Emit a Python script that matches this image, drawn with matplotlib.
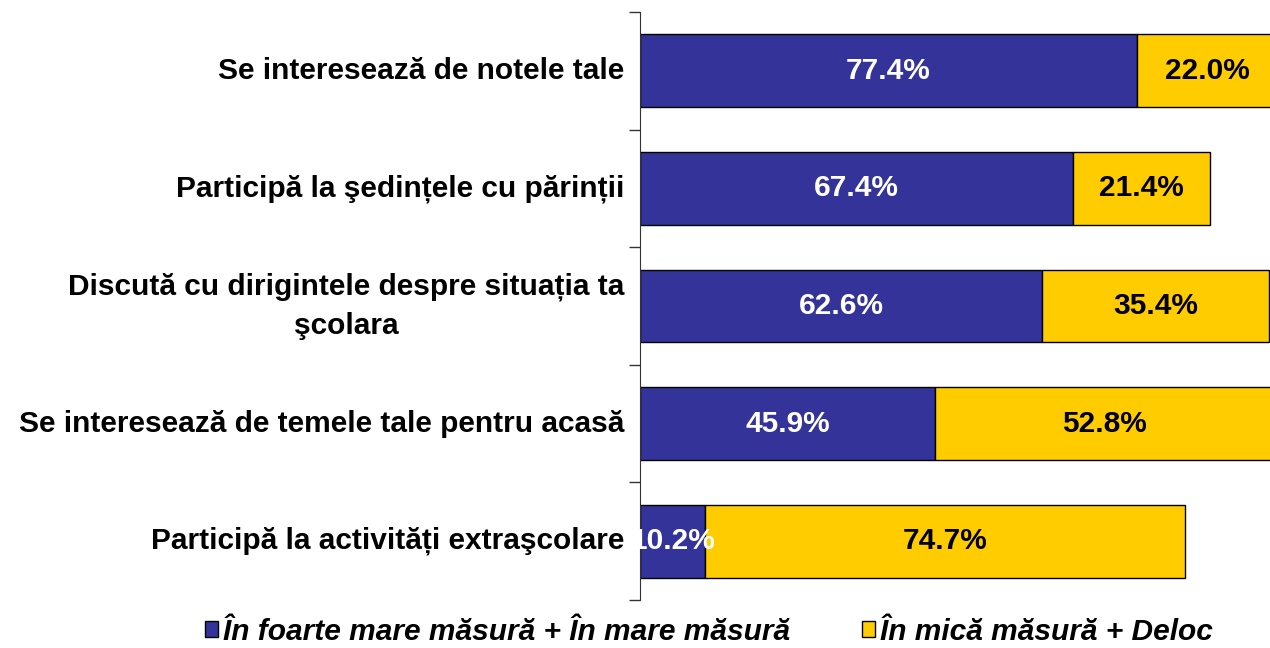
import matplotlib.pyplot as plt
import numpy as np

plt.rcParams['font.family'] = ['Liberation Sans', 'DejaVu Sans']

categories = ["Se interesează de notele tale",
              "Participă la şedințele cu părinții",
              "Discută cu dirigintele despre situația ta\nşcolara",
              "Se interesează de temele tale pentru acasă",
              "Participă la activități extraşcolare"]
mare = [77.4, 67.4, 62.6, 45.9, 10.2]
mica = [22.0, 21.4, 35.4, 52.8, 74.7]
series_names = ["În foarte mare măsură + În mare măsură",
                "În mică măsură + Deloc"]

blue = "#333399"
yellow = "#FFCC00"
fs = 21.5

fig = plt.figure(figsize=(12.7, 6.48), dpi=100)
ax = fig.add_axes([640 / 1270, 1 - 600 / 648, 642 / 1270, 588 / 648])

y = np.arange(len(categories))
h = 0.62
b1 = ax.barh(y, mare, height=h, color=blue, edgecolor="black", linewidth=1, label=series_names[0])
b2 = ax.barh(y, mica, left=mare, height=h, color=yellow, edgecolor="black", linewidth=1, label=series_names[1])

for i in range(len(categories)):
    ax.text(mare[i] / 2, y[i], f"{mare[i]:.1f}%", ha="center", va="center",
            color="white", fontsize=fs, fontweight="bold")
    ax.text(mare[i] + mica[i] / 2, y[i], f"{mica[i]:.1f}%", ha="center", va="center",
            color="black", fontsize=fs, fontweight="bold")

ax.set_xlim(0, 100)
ax.set_ylim(len(categories) - 0.5, -0.5)
ax.set_xticks([])

# ticks at category boundaries, labels at centres
ax.set_yticks(np.arange(len(categories) + 1) - 0.5)
ax.set_yticklabels([])
ax.tick_params(axis="y", length=8, width=1, color="#333333", direction="out")
for i, c in enumerate(categories):
    ax.text(-2.4, y[i], c, ha="right", va="center", multialignment="center",
            linespacing=1.5, fontsize=fs, fontweight="bold")

for s in ["top", "right", "bottom"]:
    ax.spines[s].set_visible(False)
ax.spines["left"].set_color("#333333")

fig.legend(handles=[b1, b2], loc="center", bbox_to_anchor=(0.558, 1 - 632 / 648),
           ncol=2, frameon=False, handlelength=0.45, handleheight=0.45,
           columnspacing=2.4, handletextpad=0.15,
           prop={"size": fs, "weight": "bold", "style": "italic"})

plt.savefig("out.png", dpi=100)
